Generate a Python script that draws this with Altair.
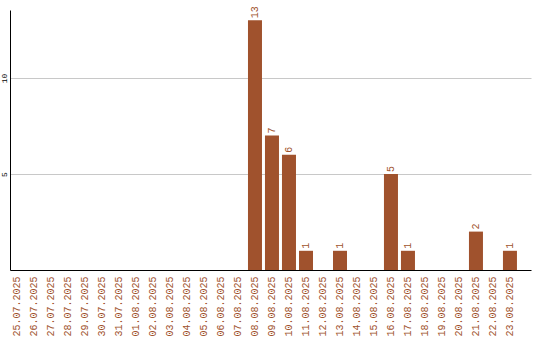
import altair as alt
import pandas as pd

dates = ["25.07.2025", "26.07.2025", "27.07.2025", "28.07.2025", "29.07.2025",
         "30.07.2025", "31.07.2025", "01.08.2025", "02.08.2025", "03.08.2025",
         "04.08.2025", "05.08.2025", "06.08.2025", "07.08.2025", "08.08.2025",
         "09.08.2025", "10.08.2025", "11.08.2025", "12.08.2025", "13.08.2025",
         "14.08.2025", "15.08.2025", "16.08.2025", "17.08.2025", "18.08.2025",
         "19.08.2025", "20.08.2025", "21.08.2025", "22.08.2025", "23.08.2025"]
counts = [0, 0, 0, 0, 0, 0, 0, 0, 0, 0, 0, 0, 0, 0, 13,
          7, 6, 1, 0, 1, 0, 0, 5, 1, 0, 0, 0, 2, 0, 1]

df = pd.DataFrame({"date": dates, "count": counts})

BROWN = "#a0522d"
FONT = "Liberation Mono"

x = alt.X("date:N", sort=dates, title=None,
          scale=alt.Scale(paddingInner=0.176, paddingOuter=0.413, align=0),
          axis=alt.Axis(labelAngle=270, labelAlign="right", labelBaseline="middle",
                        labelColor=BROWN, labelFont=FONT, labelFontSize=10,
                        labelPadding=6, ticks=False, domainColor="black",
                        domainWidth=1, grid=False, labelOverlap=False))
y = alt.Y("count:Q", title=None,
          scale=alt.Scale(domain=[0, 13.54], nice=False, zero=True),
          axis=alt.Axis(values=[5, 10], labelAngle=270, labelAlign="center",
                        labelBaseline="bottom", labelFont=FONT, labelFontSize=8,
                        labelColor="black", labelPadding=2, ticks=False,
                        domainColor="black", domainWidth=1,
                        gridColor="#c8c8c8", gridWidth=1))

bars = alt.Chart(df).mark_bar(color=BROWN).encode(x=x, y=y)
labels = alt.Chart(df).transform_filter(alt.datum["count"] > 0).mark_text(
    angle=270, align="left", baseline="middle", dx=2, color=BROWN,
    font=FONT, fontSize=10
).encode(x=alt.X("date:N", sort=dates), y="count:Q", text="count:Q")

chart = alt.layer(bars, labels).properties(
    width=521, height=260,
    autosize=alt.AutoSizeParams(type="none"),
    padding={"left": 10, "top": 10, "right": 9, "bottom": 70},
    background="white",
).configure_view(stroke=None, strokeWidth=0)

chart.save("out.html", embed_options={"renderer": "svg", "actions": False})
